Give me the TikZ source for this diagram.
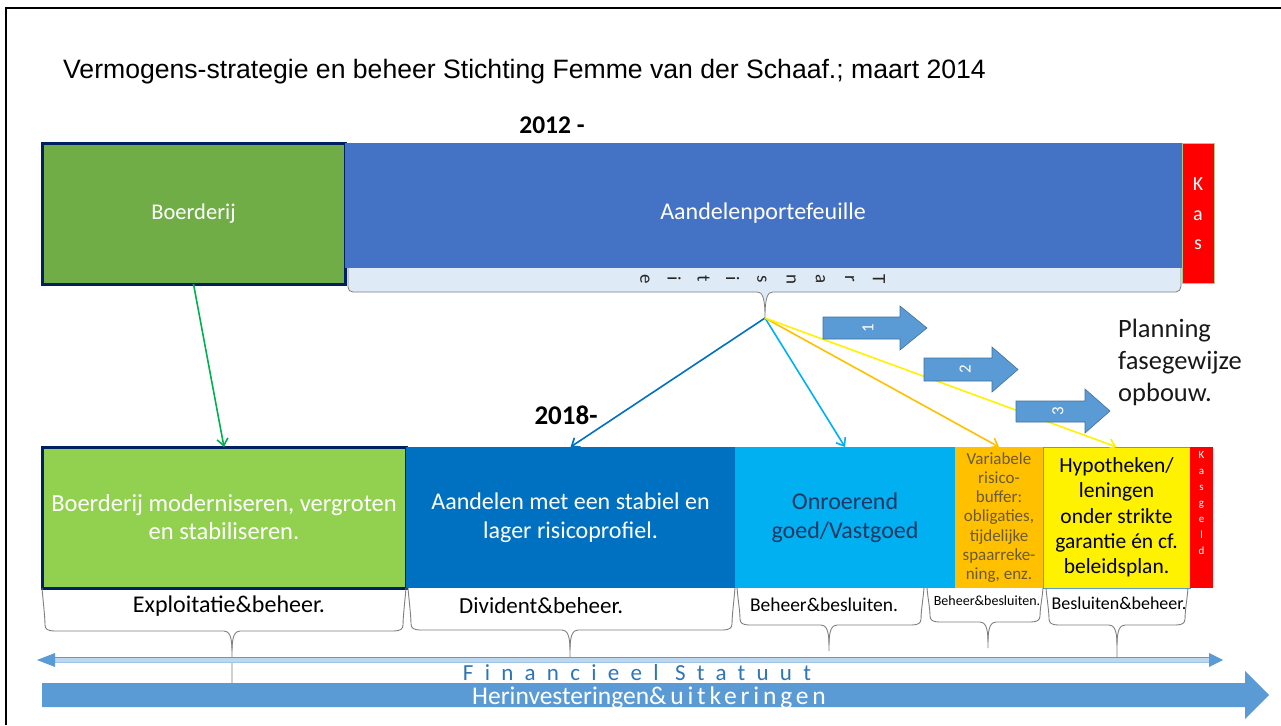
\documentclass[tikz,border=0pt]{standalone}
\usepackage{fontspec}
\setmainfont{Carlito}
\newfontfamily\arialf{Liberation Sans}
\newfontfamily\spacedA[LetterSpace=49]{Carlito}
\newfontfamily\spacedB[LetterSpace=15]{Carlito}
\usetikzlibrary{arrows.meta}
\definecolor{cboer}{HTML}{70AD47}
\definecolor{cnavy}{HTML}{002060}
\definecolor{caand}{HTML}{4472C4}
\definecolor{ctrans}{HTML}{DEEBF7}
\definecolor{cgray}{HTML}{7F7F7F}
\definecolor{ckasb}{HTML}{A9C98E}
\definecolor{cgreen2}{HTML}{92D050}
\definecolor{cblue2}{HTML}{0070C0}
\definecolor{clblue}{HTML}{00B0F0}
\definecolor{corange}{HTML}{FFC000}
\definecolor{cblk}{HTML}{5B9BD5}
\definecolor{cblkd}{HTML}{41719C}
\definecolor{carrg}{HTML}{00B050}
\definecolor{cthin}{HTML}{BDD7EE}
\definecolor{cfin}{HTML}{2E75B6}
\definecolor{conrtxt}{HTML}{1F3864}
\definecolor{cvartxt}{HTML}{6B5A2E}
\newcommand\myfs[2]{\fontsize{#1}{#2}\selectfont}
\newcommand\mybrace[5]{%
  \draw[bracel] (#1,588) .. controls (#1+1,600) and (#1+3,#3-14) .. (#1+3,#3-6)
    .. controls (#1+3,#3-2) and (#1+6,#3) .. (#1+12,#3) -- (#4-8,#3)
    .. controls (#4-3,#3) and (#4,#3+5) .. (#4,#3+20) -- (#4,#5);
  \draw[bracel] (#4,#3+20) .. controls (#4,#3+5) and (#4+3,#3) .. (#4+8,#3)
    -- (#2-12,#3) .. controls (#2-6,#3) and (#2-3,#3-2) .. (#2-3,#3-6)
    .. controls (#2-3,#3-14) and (#2-1,600) .. (#2,588);}
\begin{document}
\begin{tikzpicture}[x=1pt,y=-1pt,
  box/.style={inner sep=0pt, outer sep=0pt, anchor=north west, align=center},
  conn/.style={line width=1.6pt, -{Straight Barb[length=7pt,width=11pt]}},
  bracel/.style={draw=cgray, line width=0.9pt},
  blockarrow/.style={fill=cblk, draw=cblkd, line width=0.6pt},
  bracetxt/.style={text=black, inner sep=0pt},
]
\useasboundingbox (0,0) rectangle (1281,725);
\fill[white] (0,0) rectangle (1281,725);
% frame
\draw[line width=2pt] (6,725) -- (6,8) -- (1281,8);
% title
\node[anchor=base west, inner sep=0pt, font=\arialf\myfs{26.6}{30}] (title) at (63,78)
  {Vermogens-strategie en beheer Stichting Femme van der Schaaf.; maart 2014};
\node[font=\bfseries\myfs{25.5}{28}] (y2012) at (552,125) {2012 -};
% top row
\node[box, fill=cboer, draw=cnavy, line width=3pt, minimum width=303pt, minimum height=141pt,
  text=white, font=\myfs{22.5}{25}] (boer) at (42,143) {Boerderij};
\node[box, fill=caand, minimum width=837pt, minimum height=125pt] (aand) at (345,143) {};
\node[text=white, inner sep=0pt, font=\myfs{24}{26}] (aandtxt) at (763,213) {Aandelenportefeuille};
\node[box, fill=red, draw=ckasb, line width=0.8pt, minimum width=32pt, minimum height=140pt] (kas) at (1182,143) {};
\node[text=white, align=center, font=\myfs{20}{29.5}] (kastxt) at (1198,214) {K\\a\\s};
% transitie callout
\filldraw[fill=ctrans, draw=cgray, line width=0.8pt] (348,268) -- (348,287)
  .. controls (348,290) and (350,292) .. (353,292) -- (757,292)
  .. controls (762,292) and (765,296) .. (765,318)
  .. controls (765,296) and (768,292) .. (773,292) -- (1176,292)
  .. controls (1179,292) and (1181,289) .. (1181,286) -- (1181,268);
\coordinate (ttip) at (765,318);
\foreach \l [count=\i] in {T,r,a,n,s,i,t,i,e}
  \node[rotate=-90, inner sep=0pt, font=\myfs{19}{20}, text=black!85] (tr\i) at ({879-29.25*(\i-1)},279) {\l};
% bottom row
\node[box, fill=cgreen2, draw=cnavy, line width=3pt, minimum width=364pt, minimum height=141pt,
  text=white, font=\myfs{24.5}{28}] (boer2) at (42,447) {Boerderij moderniseren, vergroten\\en stabiliseren.};
\node[box, fill=cblue2, minimum width=329pt, minimum height=141pt,
  text=white, font=\myfs{24}{28.5}] (aand2) at (406,447) {Aandelen met een stabiel en\\lager risicoprofiel.};
\node[box, fill=clblue, minimum width=220pt, minimum height=141pt,
  text=conrtxt, font=\myfs{24}{29}] (onr) at (735,447) {Onroerend\\goed/Vastgoed};
\node[box, fill=corange, minimum width=88pt, minimum height=141pt,
  text=cvartxt, font=\myfs{17}{19.2}] (var) at (955,447) {Variabele\\risico-\\buffer:\\obligaties,\\tijdelijke\\spaarreke-\\ning, enz.};
\node[box, fill=yellow, draw=cblk, line width=0.6pt, minimum width=147pt, minimum height=141pt,
  text=black, font=\myfs{21.5}{25.3}] (hyp) at (1043,447) {Hypotheken/\\leningen\\onder strikte\\garantie én cf.\\beleidsplan.};
\node[box, fill=red, minimum width=23pt, minimum height=141pt] (kasg) at (1190,447) {};
\node[text=white, align=center, inner sep=0pt, font=\myfs{11}{16}] (kasgtxt) at (1201.5,503) {K\\a\\s\\g\\e\\l\\d};
\node[font=\bfseries\myfs{27}{28}] (y2018) at (566,415) {2018-};
% connectors
\draw[conn, carrg] (boer.south) -- (boer2.north);
\draw[conn, cblue2] (ttip) -- (aand2.north);
\draw[conn, clblue] (ttip) -- (onr.north);
\draw[conn, corange] (ttip) -- (var.north);
\draw[conn, yellow] (ttip) -- (hyp.north);
% block arrows
\filldraw[blockarrow] (823,317) -- (900,317) -- (900,306) -- (927,328) -- (900,350) -- (900,339) -- (823,339) -- cycle;
\filldraw[blockarrow] (924,358) -- (992,358) -- (992,347) -- (1018,369.5) -- (992,392) -- (992,381) -- (924,381) -- cycle;
\filldraw[blockarrow] (1016,401) -- (1085,401) -- (1085,389) -- (1110,411) -- (1085,433) -- (1085,422) -- (1016,422) -- cycle;
\node[rotate=90, text=white, inner sep=0pt, font=\myfs{17}{18}] (n1) at (868,328) {1};
\node[rotate=90, text=white, inner sep=0pt, font=\myfs{17}{18}] (n2) at (965,369.5) {2};
\node[rotate=90, text=white, inner sep=0pt, font=\myfs{17}{18}] (n3) at (1058,411) {3};
\node[anchor=west, align=left, inner sep=0pt, text=black!90, font=\myfs{26.5}{32}] (plan) at (1118,362) {Planning\\fasegewijze\\opbouw.};
% braces
\mybrace{42}{406}{631}{232}{683}
\mybrace{408}{735}{630}{570}{660}
\mybrace{737}{924}{625}{829}{651}
\mybrace{927}{1043}{622}{988}{648}
\mybrace{1046}{1188}{625}{1117}{662}
\node[bracetxt, font=\myfs{24}{26}] (b1) at (229,606) {Exploitatie\&beheer.};
\node[bracetxt, anchor=west, font=\myfs{23}{26}] (b2) at (459,606) {Divident\&beheer.};
\node[bracetxt, font=\myfs{19.5}{22}] (b3) at (824,605) {Beheer\&besluiten.};
\node[bracetxt, font=\myfs{14}{16}] (b4) at (987,601) {Beheer\&besluiten.};
\node[bracetxt, font=\myfs{18}{20}] (b5) at (1119,603) {Besluiten\&beheer.};
% thin double arrow
\fill[cthin] (54,657.5) rectangle (1210,662.5);
\draw[cblk, line width=0.7pt] (54,657.5) -- (1210,657.5);
\draw[cblk!60, line width=0.5pt] (54,662.5) -- (1210,662.5);
\fill[cblk] (37,660) -- (55,653) -- (55,667) -- cycle;
\fill[cblk] (1223,660) -- (1209,653) -- (1209,667) -- cycle;
\node[text=cfin, inner sep=0pt, font=\spacedA\myfs{23}{26}] (fin) at (637,673) {Financieel Statuut};
% big arrow
\fill[cblk] (42,683) -- (1245,683) -- (1245,671) -- (1269,695) -- (1245,719) -- (1245,707) -- (42,707) -- cycle;
\node[text=white, inner sep=0pt, anchor=base west, font=\myfs{25.5}{28}] (herin) at (472,704) {Herinvesteringen{\spacedB\&uitkeringen}};
\end{tikzpicture}
\end{document}
